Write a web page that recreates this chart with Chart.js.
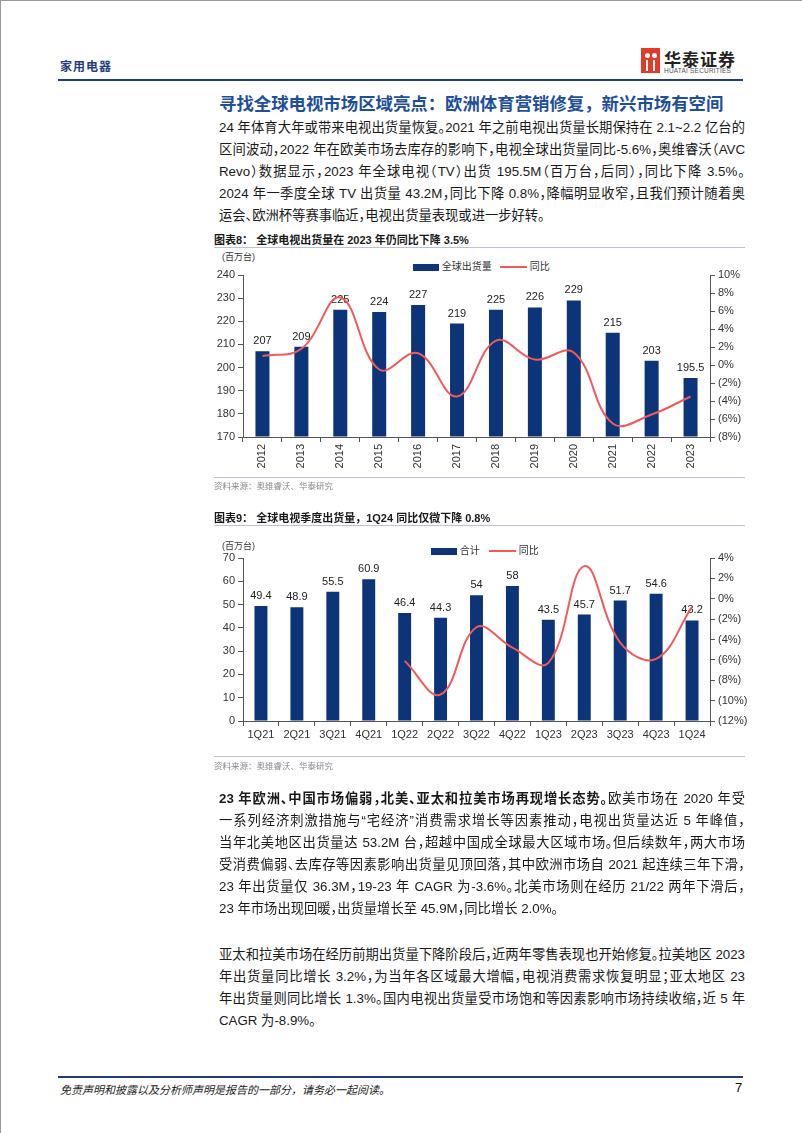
<!DOCTYPE html>
<html>
<head>
<meta charset="utf-8">
<script src="https://cdn.jsdelivr.net/npm/chart.js@4.4.1/dist/chart.umd.min.js"></script>
<style>
  html, body { margin: 0; padding: 0; background: #fff; }
  body { width: 802px; height: 1133px; position: relative; overflow: hidden;
         font-family: "Liberation Sans", "Noto Sans CJK SC", sans-serif; color: #1a1a1a; }
  .abs { position: absolute; }
  .ln { position: absolute; left: 219px; width: 526px; height: 22px; line-height: 22px;
        font-size: 13.3px; white-space: nowrap; text-align: justify; text-align-last: justify;
        text-justify: inter-character; font-feature-settings: "halt"; }
  .ln.last { text-align-last: left; }
  .ctitle { position: absolute; left: 214px; font-size: 11px; font-weight: bold; white-space: nowrap; }
  .rule { position: absolute; left: 214px; width: 531px; height: 1px; background: #b9c3d3; }
  .src { position: absolute; left: 214px; font-size: 8.5px; color: #8a8a8a; }
  .unit { position: absolute; font-size: 9px; color: #333; }
  .leg { position: absolute; font-size: 10px; color: #333; white-space: nowrap; line-height: 12px; }
  .leg i { display: inline-block; vertical-align: middle; }
</style>
</head>
<body>
<!-- header -->
<div class="abs" style="left:0;top:0;width:1px;height:1133px;background:#9a9a9a"></div>
<div class="abs" style="left:0;top:0;width:802px;height:1px;background:#9a9a9a"></div>
<div class="abs" style="left:60px;top:57px;font-size:12px;font-weight:bold;color:#1f3e7a;letter-spacing:1px">家用电器</div>
<div class="abs" style="left:641px;top:48px;width:19px;height:25px;background:#e23b2a"></div>
<div class="abs" style="left:645px;top:53px;width:5px;height:5px;border-radius:50%;background:#fff"></div>
<div class="abs" style="left:652px;top:53px;width:5px;height:5px;border-radius:50%;background:#fff"></div>
<div class="abs" style="left:646px;top:60px;width:2px;height:11px;background:#fff"></div>
<div class="abs" style="left:653px;top:60px;width:2px;height:11px;background:#fff"></div>
<div class="abs" style="left:664px;top:46px;font-size:17px;font-weight:bold;color:#222;letter-spacing:1px">华泰证券</div>
<div class="abs" style="left:664px;top:67px;font-size:6.5px;color:#555;letter-spacing:0.2px">HUATAI SECURITIES</div>
<div class="abs" style="left:58px;top:79px;width:685px;height:2px;background:#1f3e7a"></div>

<div class="abs" style="left:219px;top:90px;font-size:17.4px;font-weight:bold;color:#1f4f9a;white-space:nowrap">寻找全球电视市场区域亮点：欧洲体育营销修复，新兴市场有空间</div>

<div class="ln" style="top:117px">24 年体育大年或带来电视出货量恢复。2021 年之前电视出货量长期保持在 2.1~2.2 亿台的</div>
<div class="ln" style="top:139px">区间波动，2022 年在欧美市场去库存的影响下，电视全球出货量同比-5.6%，奥维睿沃（AVC</div>
<div class="ln" style="top:161px">Revo）数据显示，2023 年全球电视（TV）出货 195.5M（百万台，后同），同比下降 3.5%。</div>
<div class="ln" style="top:183px">2024 年一季度全球 TV 出货量 43.2M，同比下降 0.8%，降幅明显收窄，且我们预计随着奥</div>
<div class="ln last" style="top:205px">运会、欧洲杯等赛事临近，电视出货量表现或进一步好转。</div>

<!-- chart 8 -->
<div class="ctitle" style="top:231px">图表8：&nbsp;全球电视出货量在 2023 年仍同比下降 3.5%</div>
<div class="rule" style="top:247px"></div>
<div class="unit" style="left:222px;top:250px">(百万台)</div>
<div class="leg" style="left:413px;top:261px"><i style="width:26px;height:7px;background:#0b3479"></i> 全球出货量</div>
<div class="leg" style="left:500px;top:261px"><i style="width:27px;height:2px;background:#f25a5a"></i> 同比</div>
<canvas id="c1" class="abs" style="left:205px;top:250px" width="545" height="235"></canvas>
<div class="rule" style="top:477px"></div>
<div class="src" style="top:479px">资料来源：奥维睿沃、华泰研究</div>

<!-- chart 9 -->
<div class="ctitle" style="top:509px">图表9：&nbsp;全球电视季度出货量，1Q24 同比仅微下降 0.8%</div>
<div class="rule" style="top:525px"></div>
<div class="unit" style="left:222px;top:539px">(百万台)</div>
<div class="leg" style="left:431px;top:545px"><i style="width:26px;height:7px;background:#0b3479"></i> 合计</div>
<div class="leg" style="left:489px;top:545px"><i style="width:27px;height:2px;background:#f25a5a"></i> 同比</div>
<canvas id="c2" class="abs" style="left:205px;top:540px" width="545" height="215"></canvas>
<div class="rule" style="top:756px"></div>
<div class="src" style="top:759px">资料来源：奥维睿沃、华泰研究</div>

<div class="ln" style="top:788px"><b>23 年欧洲、中国市场偏弱，北美、亚太和拉美市场再现增长态势。</b>欧美市场在 2020 年受</div>
<div class="ln" style="top:810px">一系列经济刺激措施与“宅经济”消费需求增长等因素推动，电视出货量达近 5 年峰值，</div>
<div class="ln" style="top:832px">当年北美地区出货量达 53.2M 台，超越中国成全球最大区域市场。但后续数年，两大市场</div>
<div class="ln" style="top:854px">受消费偏弱、去库存等因素影响出货量见顶回落，其中欧洲市场自 2021 起连续三年下滑，</div>
<div class="ln" style="top:876px">23 年出货量仅 36.3M，19-23 年 CAGR 为-3.6%。北美市场则在经历 21/22 两年下滑后，</div>
<div class="ln last" style="top:898px">23 年市场出现回暖，出货量增长至 45.9M，同比增长 2.0%。</div>

<div class="ln" style="top:944px">亚太和拉美市场在经历前期出货量下降阶段后，近两年零售表现也开始修复。拉美地区 2023</div>
<div class="ln" style="top:966px">年出货量同比增长 3.2%，为当年各区域最大增幅，电视消费需求恢复明显；亚太地区 23</div>
<div class="ln" style="top:988px">年出货量则同比增长 1.3%。国内电视出货量受市场饱和等因素影响市场持续收缩，近 5 年</div>
<div class="ln last" style="top:1010px">CAGR 为-8.9%。</div>

<!-- footer -->
<div class="abs" style="left:58px;top:1076px;width:685px;height:2px;background:#1f3e7a"></div>
<div class="abs" style="left:60px;top:1081px;font-size:11px;font-style:italic;color:#222">免责声明和披露以及分析师声明是报告的一部分，请务必一起阅读。</div>
<div class="abs" style="left:735px;top:1080px;font-size:13px;color:#111">7</div>

<script>
// chart 8: annual global TV shipments (M units) and yoy (%)
var years = ['2012', '2013', '2014', '2015', '2016', '2017', '2018', '2019', '2020', '2021', '2022', '2023'];
var shipments = [207, 209, 225, 224, 227, 219, 225, 226, 229, 215, 203, 195.5];
var shipmentsYoy = [1.0, 1.8, 7.5, -0.5, 1.3, -3.5, 2.7, 0.6, 1.4, -6.5, -5.5, -3.5];

// chart 9: quarterly shipments and yoy
var quarters = ['1Q21', '2Q21', '3Q21', '4Q21', '1Q22', '2Q22', '3Q22', '4Q22', '1Q23', '2Q23', '3Q23', '4Q23', '1Q24'];
var qShipments = [49.4, 48.9, 55.5, 60.9, 46.4, 44.3, 54, 58, 43.5, 45.7, 51.7, 54.6, 43.2];
var qYoy = [null, null, null, null, -6.1, -9.4, -2.8, -4.8, -6.3, 3.2, -4.3, -5.9, -0.8];

var NAVY = '#0b3479';
var RED = '#f25a5a';
var AXIS = '#555';
var tickFont = { family: '"Liberation Sans", Arial, sans-serif', size: 11 };

function pct(v) {
    return v < 0 ? '(' + (-v) + '%)' : v + '%';
}

// value labels above each bar, drawn before the line so the line sits on top
var barLabels = {
    id: 'barLabels',
    afterDatasetDraw: function (chart, args) {
        if (args.index !== 0) return;
        var ctx = chart.ctx;
        var vals = chart.data.datasets[0].data;
        ctx.save();
        ctx.font = '11px "Liberation Sans", Arial, sans-serif';
        ctx.fillStyle = '#222';
        ctx.textAlign = 'center';
        ctx.textBaseline = 'middle';
        args.meta.data.forEach(function (bar, i) {
            ctx.fillText(String(vals[i]), bar.x, bar.y - 10);
        });
        ctx.restore();
    }
};

function makeChart(id, labels, bars, line, leftMin, leftMax, leftStep, rightMin, rightMax, topPad, xHeight, rotate) {
    return new Chart(document.getElementById(id), {
        type: 'bar',
        data: {
            labels: labels,
            datasets: [{
                type: 'bar',
                data: bars,
                base: leftMin,
                backgroundColor: NAVY,
                barPercentage: 0.72,
                categoryPercentage: 0.5,
                yAxisID: 'y',
                order: 1
            }, {
                type: 'line',
                data: line,
                borderColor: RED,
                borderWidth: 2,
                pointRadius: 0,
                tension: 0.4,
                yAxisID: 'y1',
                order: 0
            }]
        },
        options: {
            responsive: false,
            animation: false,
            layout: { padding: { top: topPad, left: 0, right: 0, bottom: 0 } },
            plugins: { legend: { display: false }, tooltip: { enabled: false } },
            scales: {
                x: {
                    grid: { display: true, drawOnChartArea: false, offset: true, tickLength: 5, color: AXIS },
                    border: { color: AXIS },
                    ticks: { font: tickFont, color: '#333', minRotation: rotate, maxRotation: rotate, padding: 2 },
                    afterFit: function (s) { s.height = xHeight; }
                },
                y: {
                    position: 'left',
                    min: leftMin, max: leftMax,
                    grid: { drawOnChartArea: false, tickLength: 5, color: AXIS },
                    border: { color: AXIS },
                    ticks: { stepSize: leftStep, font: tickFont, color: '#333', padding: 3 },
                    afterFit: function (s) { s.width = 38; }
                },
                y1: {
                    position: 'right',
                    min: rightMin, max: rightMax,
                    grid: { drawOnChartArea: false, tickLength: 5, color: AXIS },
                    border: { color: AXIS },
                    ticks: { stepSize: 2, font: tickFont, color: '#333', padding: 3, callback: pct },
                    afterFit: function (s) { s.width = 40; }
                }
            }
        },
        plugins: [barLabels]
    });
}

makeChart('c1', years, shipments, shipmentsYoy, 170, 240, 10, -8, 10, 25, 48, 90);
makeChart('c2', quarters, qShipments, qYoy, 0, 70, 10, -12, 4, 18, 34, 0);
</script>
</body>
</html>
